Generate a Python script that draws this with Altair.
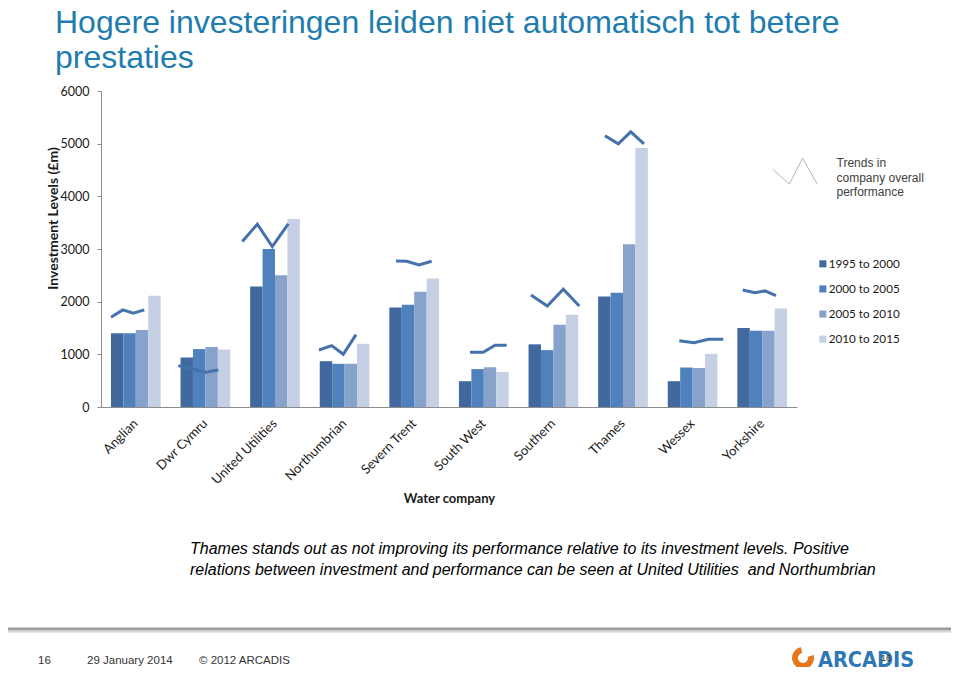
import altair as alt
import pandas as pd

# ---------------- data ----------------
companies = ["Anglian", "Dwr Cymru", "United Utilities", "Northumbrian", "Severn Trent",
             "South West", "Southern", "Thames", "Wessex", "Yorkshire"]
periods = ["1995 to 2000", "2000 to 2005", "2005 to 2010", "2010 to 2015"]

inv_1995_2000 = [1400, 940, 2290, 870, 1890, 490, 1190, 2100, 490, 1500]
inv_2000_2005 = [1400, 1100, 3000, 820, 1940, 720, 1080, 2170, 750, 1450]
inv_2005_2010 = [1460, 1140, 2500, 820, 2190, 755, 1560, 3090, 740, 1450]
inv_2010_2015 = [2110, 1090, 3570, 1200, 2440, 665, 1750, 4920, 1010, 1870]

# trend-in-performance sketches: 4 points each, position within the company slot (0-1)
trend_pos = [
    [0.144, 0.312, 0.464, 0.622],
    [0.111, 0.326, 0.504, 0.685],
    [0.030, 0.246, 0.461, 0.691],
    [0.132, 0.315, 0.481, 0.664],
    [0.239, 0.392, 0.569, 0.751],
    [0.302, 0.493, 0.661, 0.829],
    [0.178, 0.412, 0.642, 0.872],
    [0.241, 0.432, 0.611, 0.802],
    [0.309, 0.520, 0.726, 0.941],
    [0.220, 0.397, 0.540, 0.698],
]
trend_val = [
    [1704, 1843, 1780, 1843],
    [785, 716, 659, 703],
    [3141, 3471, 3046, 3477],
    [1083, 1165, 1001, 1374],
    [2774, 2768, 2698, 2768],
    [1039, 1039, 1172, 1172],
    [2128, 1919, 2236, 1919],
    [5149, 4997, 5225, 4997],
    [1260, 1222, 1286, 1286],
    [2223, 2172, 2204, 2115],
]
# legend sample of a trend sketch (slot units / value units)
icon_pos = [9.65, 9.89, 10.08, 10.29]
icon_val = [4516, 4231, 4725, 4231]

y_ticks = [0, 1000, 2000, 3000, 4000, 5000, 6000]

title_lines = ["Hogere investeringen leiden niet automatisch tot betere", "prestaties"]
note_lines = ["Thames stands out as not improving its performance relative to its investment levels. Positive",
              "relations between investment and performance can be seen at United Utilities\u00a0 and Northumbrian"]
trend_legend_lines = ["Trends in", "company overall", "performance"]

# ---------------- tables ----------------
series = [inv_1995_2000, inv_2000_2005, inv_2005_2010, inv_2010_2015]
bar_df = pd.DataFrame([
    {"company": c, "period": p, "value": series[j][i]}
    for j, p in enumerate(periods) for i, c in enumerate(companies)
])
trend_df = pd.DataFrame([
    {"company": c, "k": k, "xpos": i + trend_pos[i][k], "value": trend_val[i][k]}
    for i, c in enumerate(companies) for k in range(4)
])
icon_df = pd.DataFrame({"k": range(4), "xpos": icon_pos, "value": icon_val})
one = pd.DataFrame({"_": [0]})

bar_colors = ["#41699E", "#4F81BD", "#87A3CC", "#C5D0E5"]
line_color = "#4572AD"
yscale = alt.Scale(domain=[0, 6000], nice=False, zero=True)
xq = alt.Scale(domain=[0, 10], nice=False, zero=False)

y_axis = alt.Axis(title="Investment Levels (£m)", values=y_ticks, format="d",
                  labelFont="Lato", labelFontSize=12.5, labelColor="#1a1a1a",
                  labelPadding=8, tickSize=4, tickColor="#8c8c8c",
                  domainColor="#8c8c8c",
                  titleFont="Lato", titleFontSize=14, titleFontWeight="bold",
                  titleColor="#1a1a1a", titleAngle=270, titleX=-48, titleY=127,
                  titleAlign="center", titleBaseline="middle")

bars = alt.Chart(bar_df).mark_bar().encode(
    x=alt.X("company:N", sort=companies,
            scale=alt.Scale(paddingInner=0.2857, paddingOuter=0.14285),
            axis=alt.Axis(title="Water company", labelAngle=-45, labelAlign="right",
                          labelBaseline="middle", labelPadding=14, ticks=False,
                          labelFont="Lato", labelFontSize=13, labelColor="#1a1a1a",
                          titleFont="Lato", titleFontSize=13, titleFontWeight="bold",
                          titleColor="#1a1a1a", titleX=348, titleY=95,
                          titleAlign="center", titleBaseline="alphabetic",
                          domainColor="#8c8c8c", labelLimit=200)),
    xOffset=alt.XOffset("period:N", sort=periods,
                        scale=alt.Scale(paddingInner=0, paddingOuter=0)),
    y=alt.Y("value:Q", scale=yscale, axis=y_axis),
    color=alt.Color("period:N", sort=periods,
                    scale=alt.Scale(domain=periods, range=bar_colors),
                    legend=alt.Legend(orient="none", legendX=716, legendY=167, title=None,
                                      symbolType="square", symbolSize=50,
                                      symbolStrokeWidth=0, labelFont="Lato",
                                      labelFontSize=11.7, labelColor="#1a1a1a",
                                      rowPadding=12.1, labelOffset=0, padding=0)),
)

trend = alt.Chart(trend_df).mark_line(strokeWidth=3, color=line_color).encode(
    x=alt.X("xpos:Q", scale=xq, axis=None),
    y=alt.Y("value:Q", scale=yscale, axis=y_axis),
    detail="company:N",
    order="k:O",
)

icon = alt.Chart(icon_df).mark_line(strokeWidth=1, color="#b5b5b5").encode(
    x=alt.X("xpos:Q", scale=xq, axis=None),
    y=alt.Y("value:Q", scale=yscale, axis=y_axis),
    order="k:O",
)

title = alt.Chart(one).mark_text(align="left", baseline="alphabetic", font="Liberation Sans",
                                 fontSize=32, lineHeight=35, color="#1F7CAF").encode(
    x=alt.value(-46), y=alt.value(-58), text=alt.value(title_lines))

trend_legend = alt.Chart(one).mark_text(align="left", baseline="alphabetic",
                                        font="Liberation Sans", fontSize=12, lineHeight=14.5,
                                        color="#404040").encode(
    x=alt.value(735.5), y=alt.value(76), text=alt.value(trend_legend_lines))

note = alt.Chart(one).mark_text(align="left", baseline="alphabetic", font="Liberation Sans",
                                fontSize=16, fontStyle="italic", lineHeight=21,
                                color="#000000").encode(
    x=alt.value(89), y=alt.value(463), text=alt.value(note_lines))

rule1 = alt.Chart(one).mark_rule(color="#9a9a9a", strokeWidth=3).encode(
    x=alt.value(-101), x2=alt.value(858), y=alt.value(538))
rule2 = alt.Chart(one).mark_rule(color="#d4d4d4", strokeWidth=2).encode(
    x=alt.value(-101), x2=alt.value(858), y=alt.value(540.5))

def foot(txt, xpos):
    return alt.Chart(one).mark_text(align="left", baseline="alphabetic", font="Liberation Sans",
                                    fontSize=11.5, color="#333333").encode(
        x=alt.value(xpos), y=alt.value(573), text=alt.value(txt))

f1 = foot("16", -63)
f2 = foot("29 January 2014", -14)
f3 = foot("© 2012 ARCADIS", 98)

logo_text = alt.Chart(one).mark_text(align="left", baseline="alphabetic",
                                     font="DejaVu Sans Condensed, sans-serif",
                                     fontWeight="bold", fontSize=21.5, color="#2E79B5").encode(
    x=alt.value(717), y=alt.value(576), text=alt.value("ARCADIS"))
logo_icon = alt.Chart(one).mark_arc(radius=11, radius2=5, theta=1.3, theta2=6.1,
                                    color="#E8771C").encode(
    x=alt.value(702), y=alt.value(567))
page_no = alt.Chart(one).mark_text(align="left", baseline="alphabetic", font="Liberation Sans",
                                   fontSize=9, color="#333333").encode(
    x=alt.value(780), y=alt.value(570), text=alt.value("16"))

chart = alt.layer(
    bars, trend, icon, title, trend_legend, note, rule1, rule2, f1, f2, f3,
    logo_icon, logo_text, page_no
).resolve_scale(x="independent").properties(
    width=696, height=316,
    autosize=alt.AutoSizeParams(type="none"),
    padding={"left": 93, "top": 83, "right": 154, "bottom": 260},
).configure_view(stroke=None).configure_axis(grid=False)

chart.save("out.html", embed_options={"renderer": "svg", "actions": False})
